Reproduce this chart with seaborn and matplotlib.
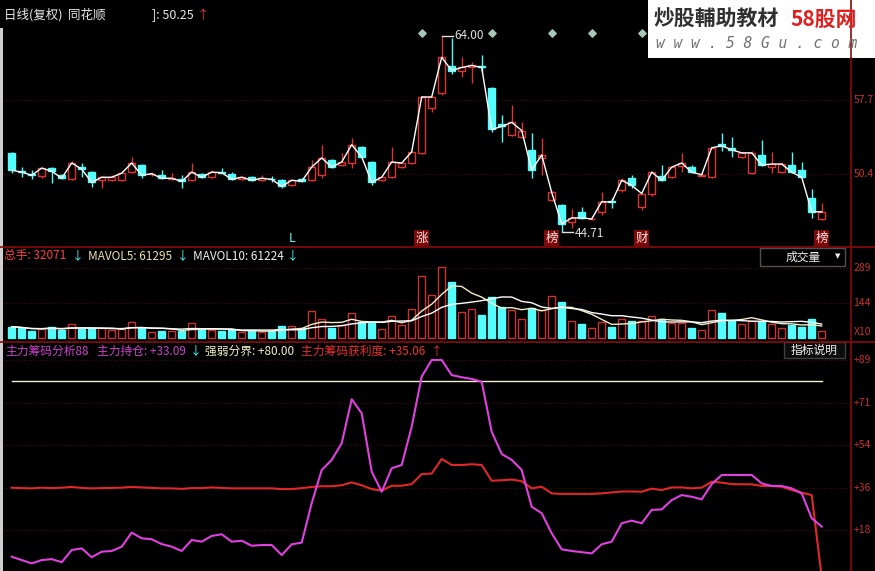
import numpy as np
import pandas as pd
import matplotlib
matplotlib.use("Agg")
import matplotlib.pyplot as plt
from matplotlib.patches import Rectangle
from matplotlib.lines import Line2D
import seaborn as sns

W, H = 875, 571

# daily candles (price)
opens = [52.5, 50.7, 50.4, 50.2, 51.0, 50.3, 49.9, 51.1, 50.6, 49.8,
         49.8, 49.8, 50.6, 51.3, 50.4, 50.3, 49.9, 49.9, 49.8, 50.4,
         50.1, 50.6, 50.4, 49.9, 50.1, 49.8, 49.95, 49.8, 49.3, 49.9,
         49.8, 50.3, 51.8, 51.3, 51.5, 53.1, 51.6, 49.8, 50.1, 51.1,
         51.5, 52.5, 56.9, 58.4, 61.0, 60.6, 60.9, 61.0, 58.9, 55.3,
         54.3, 54.1, 52.8, 52.0, 47.9, 47.4, 45.7, 46.7, 45.95, 46.7,
         47.75, 48.8, 50.0, 47.2, 48.5, 50.2, 50.1, 51.2, 51.1, 50.25,
         50.1, 53.4, 53.0, 52.1, 50.5, 52.3, 51.1, 50.6, 51.3, 50.8,
         48.1, 46.0]
closes = [50.8, 50.6, 50.3, 51.0, 50.7, 50.0, 51.5, 50.9, 49.6, 50.1,
          50.1, 50.5, 51.5, 50.3, 50.45, 50.0, 50.0, 49.7, 50.6, 50.1,
          50.6, 50.55, 49.9, 50.1, 49.8, 50.0, 49.9, 49.2, 49.8, 49.7,
          51.1, 52.0, 51.1, 51.6, 53.3, 52.1, 49.6, 50.1, 51.6, 51.5,
          52.6, 58.0, 58.0, 61.9, 60.6, 60.9, 61.1, 60.9, 54.8, 55.1,
          55.5, 54.7, 50.8, 52.3, 48.6, 45.5, 46.1, 46.1, 46.0, 47.7,
          47.65, 49.8, 49.3, 48.5, 50.6, 49.8, 51.1, 51.5, 50.6, 50.35,
          53.0, 53.2, 52.8, 52.5, 52.5, 51.3, 51.4, 51.4, 50.6, 50.1,
          46.7, 46.7]
highs = [52.6, 51.1, 50.8, 51.1, 51.1, 50.4, 51.7, 51.5, 50.7, 50.2,
         50.3, 50.7, 52.1, 51.4, 50.6, 50.8, 50.5, 50.3, 51.5, 50.5,
         50.8, 51.0, 50.6, 50.2, 50.2, 50.3, 50.2, 49.9, 49.9, 50.0,
         51.8, 53.3, 51.9, 52.5, 54.0, 53.2, 51.7, 50.2, 53.1, 51.6,
         52.7, 58.1, 58.1, 64.0, 63.8, 61.9, 61.4, 62.1, 59.0, 56.2,
         57.2, 55.5, 54.5, 54.0, 48.7, 47.5, 47.0, 47.2, 46.3, 48.6,
         48.1, 50.0, 50.3, 48.6, 50.7, 51.3, 51.2, 52.5, 51.3, 50.5,
         53.1, 54.5, 54.1, 52.6, 52.7, 53.8, 52.6, 51.6, 52.6, 51.6,
         48.9, 47.6]
lows = [50.5, 50.1, 49.9, 50.0, 49.5, 49.9, 49.8, 50.1, 49.1, 49.0,
        49.7, 49.7, 50.5, 50.0, 50.2, 49.9, 49.8, 49.0, 49.7, 50.0,
        50.0, 50.5, 49.8, 49.8, 49.7, 49.7, 49.6, 49.0, 49.2, 49.6,
        49.7, 50.0, 51.0, 51.2, 51.0, 52.0, 49.3, 49.7, 50.0, 51.0,
        51.4, 52.4, 56.5, 58.2, 60.3, 60.0, 59.4, 60.5, 54.6, 53.6,
        54.2, 54.0, 50.0, 50.3, 47.8, 44.71, 45.1, 46.0, 45.9, 46.4,
        47.1, 48.6, 49.0, 46.9, 48.3, 49.7, 50.0, 50.6, 50.5, 50.2,
        50.0, 52.7, 52.1, 52.0, 50.4, 51.2, 50.5, 50.5, 50.5, 50.0,
        46.1, 45.9]

# volume (x10000)
volumes = [47, 40, 30, 37, 47, 33, 57, 37, 37, 40,
           33, 37, 65, 43, 26, 29, 29, 29, 61, 33,
           33, 29, 33, 26, 29, 26, 29, 50, 50, 40,
           112, 77, 40, 54, 104, 67, 67, 36, 91, 54,
           119, 256, 178, 294, 230, 106, 119, 95, 168, 129,
           116, 77, 123, 116, 173, 150, 70, 57, 40, 67,
           47, 77, 70, 70, 92, 77, 63, 63, 40, 33,
           116, 104, 71, 58, 70, 71, 57, 40, 54, 47,
           77, 30]

# indicator lines
main_hold = [6.6, 5.2, 3.8, 5.2, 5.6, 4.3, 9.4, 10.1, 6.4, 8.7,
             9.0, 10.8, 16.7, 14.3, 13.9, 11.9, 10.8, 9.0, 13.6, 12.9,
             15.3, 16.0, 12.9, 13.3, 11.2, 11.5, 11.5, 7.3, 11.8, 12.5,
             29.0, 42.9, 47.1, 54.1, 72.5, 66.6, 42.2, 33.8, 43.6, 45.0,
             61.0, 82.0, 88.9, 88.9, 82.6, 81.7, 81.0, 79.8, 58.9, 49.6,
             47.1, 42.9, 27.5, 24.8, 16.4, 9.7, 9.0, 8.5, 8.0, 11.8,
             12.9, 20.6, 21.7, 20.6, 26.2, 26.4, 30.3, 32.4, 31.7, 30.6,
             37.0, 40.8, 40.8, 40.8, 40.8, 37.3, 36.2, 36.2, 35.2, 33.1,
             22.7, 19.2]
profit = [35.5, 35.3, 35.2, 35.5, 35.3, 35.5, 35.8, 35.4, 35.2, 35.3,
          35.4, 35.5, 35.8, 35.6, 35.4, 35.2, 35.2, 35.0, 35.3, 35.3,
          35.6, 35.4, 35.2, 35.2, 35.2, 35.2, 35.2, 34.9, 34.9, 35.3,
          35.8, 36.1, 36.1, 36.5, 37.7, 36.5, 34.9, 34.3, 36.3, 36.3,
          37.0, 41.2, 41.4, 47.5, 45.0, 45.0, 45.3, 45.0, 38.4, 38.6,
          38.9, 38.2, 35.2, 35.9, 33.1, 32.9, 32.9, 32.9, 32.9, 33.1,
          33.5, 33.9, 33.9, 33.8, 35.1, 34.5, 35.6, 35.6, 35.2, 35.5,
          38.0, 37.6, 37.0, 36.9, 36.9, 36.2, 36.2, 35.9, 34.5, 33.4,
          32.4, -2.0]
boundary = 80.0

diamond_idx = [41, 48, 54, 58, 63]
mark_idx = [28, 41, 54, 63, 81]
mark_text = ["L", "涨", "榜", "财", "榜"]

price_ticks = [57.70, 50.42]
price_labels = ["57.7", "50.4"]
vol_ticks = [289, 144.5]
vol_labels = ["289", "144"]
ind_ticks = [88.8, 71.0, 53.3, 35.5, 17.8]
ind_labels = ["+89", "+71", "+54", "+36", "+18"]

RED = "#e03434"
CYAN = "#54fcfc"
DARKRED = "#8a0a0a"
GRID = "#4a0c0c"
MAGENTA = "#e040e0"
AXCOL = "#c83030"

plt.rcParams['font.family'] = ['Noto Sans CJK SC', 'DejaVu Sans']


def fx(px):
    return px / W


def fy(py):
    return 1 - py / H


fig = plt.figure(figsize=(W / 100, H / 100), dpi=100, facecolor="black")

x = np.arange(len(closes))
o = np.array(opens)
c = np.array(closes)
up = c >= o
XL = (-1.17, 83.93)

ax_p = fig.add_axes([0, fy(246), 851 / W, 246 / H])
ax_v = fig.add_axes([0, fy(341), 851 / W, 94 / H])
ax_i = fig.add_axes([0, 0, 851 / W, 228 / H])
for ax in (ax_p, ax_v, ax_i):
    ax.set_facecolor("black")
    ax.set_xlim(*XL)
    ax.set_axis_off()


def right_labels(ax, ticks, labels):
    for t, lab in zip(ticks, labels):
        ax.axhline(t, color=GRID, lw=0.8, ls=(0, (1, 2)), zorder=0)
        ax.text(1.003, t, lab, transform=ax.get_yaxis_transform(), color=AXCOL,
                fontsize=7.5, va="center", ha="left", clip_on=False)


# ---------- price panel ----------
ax_p.set_ylim(43.336, 67.54)
right_labels(ax_p, price_ticks, price_labels)

col = np.where(up, RED, CYAN)
ax_p.vlines(x, lows, highs, colors=col, lw=1, zorder=1)
body_lo = np.minimum(o, c)
body_h = np.maximum(np.abs(c - o), 0.06)
ax_p.bar(x, body_h, bottom=body_lo, width=0.7,
         color=np.where(up, "black", CYAN), edgecolor=col, lw=1, zorder=2)
sns.lineplot(x=x, y=closes, ax=ax_p, color="white", lw=1, zorder=3)
ax_p.set_xlim(*XL)
ax_p.set_ylim(43.336, 67.54)

ax_p.scatter(diamond_idx, [64.3] * len(diamond_idx), marker="D", s=14,
             color="#a8c8b8", zorder=4)

# high / low labels
hi = int(np.argmax(highs))
lo = int(np.argmin(lows))
ax_p.plot([hi, hi + 1.15], [highs[hi], highs[hi]], color="#e0e0e0", lw=1)
ax_p.text(hi + 1.3, highs[hi], f"{highs[hi]:.2f}", color="#e0e0e0", fontsize=8.5, va="center")
ax_p.plot([lo, lo + 1.15], [lows[lo], lows[lo]], color="#e0e0e0", lw=1)
ax_p.text(lo + 1.3, lows[lo] - 0.15, f"{lows[lo]:.2f}", color="#e0e0e0", fontsize=8.5, va="center")

for i, t in zip(mark_idx, mark_text):
    if t == "L":
        ax_p.text(i, 44.1, t, color=CYAN, fontsize=9, ha="center", va="center")
    else:
        ax_p.text(i, 44.1, t, color="#ffe0e0", fontsize=9, ha="center", va="center",
                  bbox=dict(boxstyle="square,pad=0.12", fc="#7a0a0a", ec="none"))

# ---------- volume panel ----------
ax_v.set_ylim(-12.39, 375.8)
right_labels(ax_v, vol_ticks, vol_labels)
ax_v.text(1.003, 25, "X10", transform=ax_v.get_yaxis_transform(), color=AXCOL,
          fontsize=7.5, va="center", ha="left", clip_on=False)
ax_v.bar(x, volumes, width=0.7, color=np.where(up, "black", CYAN),
         edgecolor=np.where(up, "#c83232", CYAN), lw=1)
vol_s = pd.Series(volumes, dtype=float)
sns.lineplot(x=x, y=vol_s.rolling(5, min_periods=1).mean(), ax=ax_v, color="#f4ecc8", lw=1)
sns.lineplot(x=x, y=vol_s.rolling(10, min_periods=1).mean(), ax=ax_v, color="white", lw=1)
ax_v.set_xlim(*XL)
ax_v.set_ylim(-12.39, 375.8)

# ---------- indicator panel ----------
ax_i.set_ylim(0.628, 96.03)
right_labels(ax_i, ind_ticks, ind_labels)
sns.lineplot(x=x, y=[boundary] * len(x), ax=ax_i, color="#f2f0d0", lw=1)
sns.lineplot(x=x, y=profit, ax=ax_i, color="#e02828", lw=1.5)
sns.lineplot(x=x, y=main_hold, ax=ax_i, color=MAGENTA, lw=1.5)
ax_i.set_xlim(*XL)
ax_i.set_ylim(0.628, 96.03)

# ---------- frame lines ----------
for yy in (246.5, 342):
    fig.add_artist(Line2D([0, 1], [fy(yy), fy(yy)], color=DARKRED, lw=1.2))
fig.add_artist(Line2D([fx(851), fx(851)], [0, 1], color=DARKRED, lw=1.2))
fig.add_artist(Rectangle((0, 0), fx(3), fy(28), color="#cfcfcf", lw=0))


# ---------- header texts ----------
def seg(px, py, s, color, size=8.5):
    fig.text(fx(px), fy(py), s, color=color, fontsize=size, va="center", ha="left")


seg(4, 15, "日线(复权)  同花顺", "#e8e8e8", 9)
seg(152, 15, "]: 50.25", "#e8e8e8", 9)
seg(197, 15, "↑", RED, 9)

seg(4, 256, "总手: 32071", "#ff4040")
seg(72, 256, "↓", CYAN)
seg(88, 256, "MAVOL5: 61295", "#ece0a8")
seg(177, 256, "↓", CYAN)
seg(193, 256, "MAVOL10: 61224", "#f0f0f0")
seg(287, 256, "↓", CYAN)

seg(5, 351, "主力筹码分析88", "#d040d0")
seg(97, 351, "主力持仓: +33.09", "#d040d0")
seg(190, 351, "↓", CYAN)
seg(205, 351, "强弱分界: +80.00", "#f0f0c8")
seg(301, 351, "主力筹码获利度: +35.06", "#f03030")
seg(431, 351, "↑", RED)

# buttons
fig.add_artist(Rectangle((fx(760), fy(266)), fx(85), 18 / H, fc="black", ec="#505050", lw=1))
fig.text(fx(803), fy(257), "成交量", color="#f0f0f0", fontsize=8.5, ha="center", va="center")
fig.text(fx(838), fy(256), "▼", color="#f0f0f0", fontsize=5, ha="center", va="center",
         family="DejaVu Sans")
fig.add_artist(Rectangle((fx(784), fy(358)), fx(61), 16 / H, fc="#0c0c0c", ec="#404040", lw=1))
fig.text(fx(814), fy(350), "指标说明", color="#f0f0f0", fontsize=8.5, ha="center", va="center")

# watermark
fig.add_artist(Rectangle((fx(648), fy(58)), fx(875 - 648), 58 / H, fc="white", ec="none"))
fig.text(fx(654), fy(19), "炒股輔助教材", color="#303030", fontsize=15, fontweight="bold",
         style="italic", va="center", ha="left")
fig.text(fx(790), fy(19), "58股网", color="#e02020", fontsize=15, fontweight="bold",
         style="italic", va="center", ha="left")
fig.text(fx(656), fy(43), "w w w . 5 8 G u . c o m", color="#707070", fontsize=10.5,
         family="DejaVu Sans Mono", style="italic", va="center", ha="left")

fig.savefig("out.png", dpi=100, facecolor="black")
